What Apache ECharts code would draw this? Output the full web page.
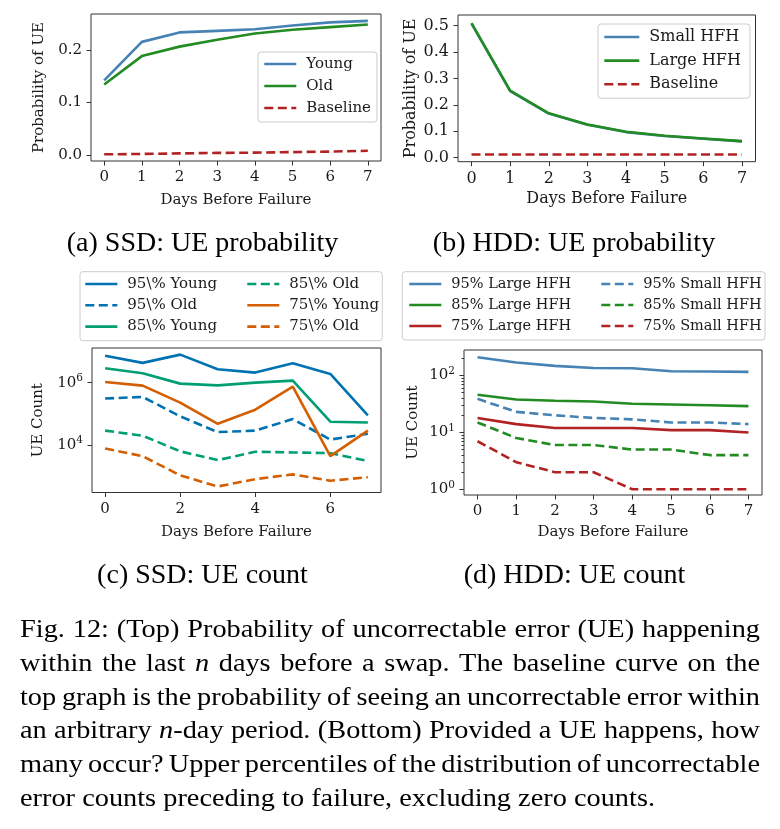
<!DOCTYPE html>
<html>
<head>
<meta charset="utf-8">
<script src="https://cdn.jsdelivr.net/npm/echarts@6/dist/echarts.min.js"></script>
<style>
html, body { margin: 0; padding: 0; background: #fff; }
#chart { width: 780px; height: 829px; }
</style>
</head>
<body>
<div id="chart"></div>
<script>
// days before failure, shared by all four panels
var days = [0, 1, 2, 3, 4, 5, 6, 7];

// (a) SSD: UE probability
var ssdYoung = [0.142, 0.215, 0.233, 0.236, 0.239, 0.246, 0.252, 0.255];
var ssdOld = [0.134, 0.188, 0.206, 0.219, 0.231, 0.238, 0.243, 0.248];
var ssdBaseline = [0.0013, 0.002, 0.003, 0.004, 0.0045, 0.0055, 0.0065, 0.008];

// (b) HDD: UE probability
var hddSmall = [0.507, 0.252, 0.167, 0.125, 0.097, 0.082, 0.072, 0.062];
var hddLarge = [0.509, 0.254, 0.168, 0.126, 0.098, 0.083, 0.073, 0.063];
var hddBaseline = [0.012, 0.012, 0.012, 0.012, 0.012, 0.012, 0.012, 0.012];

// (c) SSD: UE count percentiles
var ssd95Young = [7.3e6, 4.3e6, 7.9e6, 2.7e6, 2.1e6, 4.2e6, 1.9e6, 8.9e4];
var ssd95Old = [3.1e5, 3.5e5, 8.3e4, 2.6e4, 2.9e4, 6.8e4, 1.5e4, 2.3e4];
var ssd85Young = [2.9e6, 2.0e6, 9.3e5, 8.2e5, 1.0e6, 1.16e6, 5.6e4, 5.3e4];
var ssd85Old = [2.9e4, 2.0e4, 6.3e3, 3.3e3, 6.1e3, 5.8e3, 5.5e3, 3.1e3];
var ssd75Young = [1.05e6, 8.0e5, 2.3e5, 4.8e4, 1.36e5, 7.4e5, 4.4e3, 2.9e4];
var ssd75Old = [7.8e3, 4.4e3, 1.07e3, 470, 810, 1.15e3, 720, 930];

// (d) HDD: UE count percentiles
var hdd95Large = [210, 170, 148, 136, 135, 119, 118, 116];
var hdd85Large = [46, 38, 36, 35, 32, 31, 30, 29];
var hdd75Large = [18, 14, 12, 12, 12, 11, 11, 10];
var hdd95Small = [39, 23, 20, 18, 17, 15, 15, 14];
var hdd85Small = [15, 8, 6, 6, 5, 5, 4, 4];
var hdd75Small = [7, 3, 2, 2, 1, 1, 1, 1];

// tick labels
var dayTicks = [0, 1, 2, 3, 4, 5, 6, 7];
var dayTicksC = [0, 2, 4, 6];
var probTicksA = [0, 0.1, 0.2];
var probTicksB = [0, 0.1, 0.2, 0.3, 0.4, 0.5];
var countTicksC = [1e4, 1e6];
var countTicksD = [1, 10, 100];
var minorTicksD = [];
[1, 10, 100].forEach(function (p) {
    for (var m = 2; m <= 9; m++) {
        if (m * p < 282) minorTicksD.push(m * p);
    }
});

var captionLines = [
    'Fig. 12: (Top) Probability of uncorrectable error (UE) happening',
    'within the last _n_ days before a swap. The baseline curve on the',
    'top graph is the probability of seeing an uncorrectable error within',
    'an arbitrary _n_-day period. (Bottom) Provided a UE happens, how',
    'many occur? Upper percentiles of the distribution of uncorrectable',
    'error counts preceding to failure, excluding zero counts.'
];

var AX_FONT = 'DejaVu Serif';
var CAP_FONT = '"Liberation Serif", "Times New Roman", serif';
var FRAME = '#333';
var TXT = '#1a1a1a';
var LW = 2.6;

// matplotlib named colours
var BLUE = '#4682b4', GREEN = '#228b22', RED = '#b22222';
// seaborn colorblind
var CB_BLUE = '#0072b2', CB_GREEN = '#009e73', CB_ORANGE = '#d55e00';

function pts(vals) {
    return days.map(function (d, i) { return [d, vals[i]]; });
}

function xAxisCfg(gi, ticks, gap, fs) {
    return {
        type: 'value', gridIndex: gi, min: -0.35, max: 7.35,
        axisLine: { show: false, onZero: false },
        axisTick: { show: true, customValues: ticks, length: 4.5, lineStyle: { color: FRAME } },
        axisLabel: { customValues: ticks, margin: 9, fontFamily: AX_FONT, fontSize: fs, color: TXT },
        splitLine: { show: false },
        name: 'Days Before Failure', nameLocation: 'middle', nameGap: gap,
        nameTextStyle: { fontFamily: AX_FONT, fontSize: fs, color: TXT }
    };
}

function yValCfg(gi, min, max, ticks, gap, fs) {
    return {
        type: 'value', gridIndex: gi, min: min, max: max,
        axisLine: { show: false, onZero: false },
        axisTick: { show: true, customValues: ticks, length: 4.5, lineStyle: { color: FRAME } },
        axisLabel: {
            customValues: ticks, margin: 9, fontFamily: AX_FONT, fontSize: fs, color: TXT,
            formatter: function (v) { return v.toFixed(1); }
        },
        splitLine: { show: false },
        name: 'Probability of UE', nameLocation: 'middle', nameGap: gap,
        nameTextStyle: { fontFamily: AX_FONT, fontSize: fs, color: TXT }
    };
}

function yLogCfg(gi, min, max, ticks, gap) {
    return {
        type: 'log', logBase: 10, gridIndex: gi, min: min, max: max, position: 'left',
        axisLine: { show: false, onZero: false },
        axisTick: { show: true, customValues: ticks, length: 4.5, lineStyle: { color: FRAME } },
        axisLabel: {
            customValues: ticks, margin: 9, fontFamily: AX_FONT, fontSize: 15, color: TXT,
            formatter: function (v) { return '10{s|' + Math.round(Math.log10(v)) + '}'; },
            rich: {
                s: { fontFamily: AX_FONT, fontSize: 10.5, color: TXT, verticalAlign: 'top', lineHeight: 20 }
            }
        },
        splitLine: { show: false },
        name: 'UE Count', nameLocation: 'middle', nameGap: gap,
        nameTextStyle: { fontFamily: AX_FONT, fontSize: 15, color: TXT }
    };
}

function line(name, gi, yi, vals, color, dashed) {
    return {
        name: name, type: 'line', xAxisIndex: gi, yAxisIndex: yi,
        data: pts(vals), symbol: 'none', animation: false,
        lineStyle: { color: color, width: LW, type: dashed ? [9, 4.5] : 'solid', cap: 'butt' },
        itemStyle: { color: color }
    };
}

function legendCfg(names, left, top, gap, padding, framed, fs, handle) {
    var cfg = {
        orient: 'vertical', left: left, top: top, data: names,
        itemWidth: handle || 32, itemHeight: 16, itemGap: gap, padding: padding,
        selectedMode: false,
        itemStyle: { opacity: 0 },
        lineStyle: { width: LW },
        textStyle: { fontFamily: AX_FONT, fontSize: fs || 15, color: TXT, lineHeight: 16, padding: [0, 0, 0, 5] }
    };
    if (framed) {
        cfg.backgroundColor = 'rgba(255,255,255,0.8)';
        cfg.borderColor = '#cccccc';
        cfg.borderWidth = 1;
        cfg.borderRadius = 3;
    }
    return cfg;
}

// caption text, justified word by word
var measureCtx = document.createElement('canvas').getContext('2d');
function segWidth(seg, italic, size) {
    measureCtx.font = (italic ? 'italic ' : '') + size + 'px ' + CAP_FONT;
    return measureCtx.measureText(seg).width;
}
function splitToken(tok) {
    return tok.split(/(_[^_]+_)/).filter(function (s) { return s.length; }).map(function (s) {
        var it = s.charAt(0) === '_' && s.charAt(s.length - 1) === '_' && s.length > 2;
        return { text: it ? s.slice(1, -1) : s, italic: it };
    });
}

function captionGraphics() {
    var size = 25.5;
    var left = 20, right = 760, lastRight = 655;
    var base0 = 639, step = 33.8;
    var els = [];
    var lines = captionLines.map(function (ln) {
        return ln.split(' ').map(function (tok) {
            var segs = splitToken(tok);
            var w = 0;
            segs.forEach(function (s) { s.w = segWidth(s.text, s.italic, size); w += s.w; });
            return { segs: segs, w: w };
        });
    });
    var spaceW = segWidth(' ', false, size);
    var last = lines[lines.length - 1];
    var lastW = last.reduce(function (a, t) { return a + t.w; }, 0) + spaceW * (last.length - 1);
    var k = (lastRight - left) / lastW;
    lines.forEach(function (words, li) {
        var wordsW = words.reduce(function (a, t) { return a + t.w; }, 0) * k;
        var gap = li < lines.length - 1 ? (right - left - wordsW) / (words.length - 1) : spaceW * k;
        var x = left;
        var y = base0 + li * step - 0.3375 * size;
        words.forEach(function (t) {
            t.segs.forEach(function (s) {
                els.push({
                    type: 'text', x: x, y: y, scaleX: k, silent: true,
                    style: {
                        text: s.text, fontSize: size, fontFamily: CAP_FONT,
                        fontStyle: s.italic ? 'italic' : 'normal', fill: '#000',
                        align: 'left', verticalAlign: 'middle'
                    }
                });
                x += s.w * k;
            });
            x += gap;
        });
    });
    return els;
}

function subCaption(text, cx, baseline) {
    var size = 28;
    return {
        type: 'text', x: cx, y: baseline - 0.3375 * size, silent: true,
        style: {
            text: text, fontSize: size, fontFamily: CAP_FONT, fill: '#000',
            align: 'center', verticalAlign: 'middle'
        }
    };
}

function legendFrame(x, y, w, h) {
    return {
        type: 'rect', silent: true, z: -1,
        shape: { x: x, y: y, width: w, height: h, r: 3 },
        style: { fill: 'rgba(255,255,255,0.8)', stroke: '#cccccc', lineWidth: 1 }
    };
}

var chart = echarts.init(document.getElementById('chart'), null, { renderer: 'canvas' });

var gridStyle = { show: true, borderColor: FRAME, borderWidth: 1, backgroundColor: 'transparent' };
var option = {
    backgroundColor: '#ffffff',
    animation: false,
    grid: [
        Object.assign({ left: 91, top: 14, width: 290, height: 147 }, gridStyle),
        Object.assign({ left: 458, top: 15, width: 297.5, height: 146.7 }, gridStyle),
        Object.assign({ left: 92, top: 348, width: 289, height: 144.5 }, gridStyle),
        Object.assign({ left: 464, top: 350, width: 298, height: 145 }, gridStyle)
    ],
    xAxis: [
        xAxisCfg(0, dayTicks, 32, 15),
        xAxisCfg(1, dayTicks, 29, 16),
        xAxisCfg(2, dayTicksC, 32, 15),
        xAxisCfg(3, dayTicks, 30, 15)
    ],
    yAxis: [
        yValCfg(0, -0.0114, 0.268, probTicksA, 44, 15),
        yValCfg(1, -0.015, 0.54, probTicksB, 39, 16),
        yLogCfg(2, Math.pow(10, 2.48), Math.pow(10, 7.11), countTicksC, 46),
        yLogCfg(3, Math.pow(10, -0.1), Math.pow(10, 2.45), countTicksD, 43),
        {
            type: 'log', logBase: 10, gridIndex: 3, min: Math.pow(10, -0.1), max: Math.pow(10, 2.45),
            position: 'left',
            axisLine: { show: false, onZero: false },
            axisTick: { show: true, customValues: minorTicksD, length: 2.5, lineStyle: { color: FRAME } },
            axisLabel: { show: false },
            splitLine: { show: false }
        }
    ],
    legend: [
        legendCfg(['Young', 'Old', 'Baseline'], 258, 52, 6, [4, 6, 6, 5], true),
        legendCfg(['Small HFH', 'Large HFH', 'Baseline'], 598, 24, 7.6, [5, 9, 6, 5], true, 16, 35),
        legendCfg(['95\\% Young', '95\\% Old', '85\\% Young'], 84, 276, 5.3, 0, false),
        legendCfg(['85\\% Old', '75\\% Young', '75\\% Old'], 246, 276, 5.3, 0, false),
        legendCfg(['95% Large HFH', '85% Large HFH', '75% Large HFH'], 408, 276, 5, 0, false, 14.5),
        legendCfg(['95% Small HFH', '85% Small HFH', '75% Small HFH'], 600, 276, 5, 0, false, 14.5)
    ],
    series: [
        line('Young', 0, 0, ssdYoung, BLUE, false),
        line('Old', 0, 0, ssdOld, GREEN, false),
        line('Baseline', 0, 0, ssdBaseline, RED, true),

        line('Small HFH', 1, 1, hddSmall, BLUE, false),
        line('Large HFH', 1, 1, hddLarge, GREEN, false),
        line('Baseline', 1, 1, hddBaseline, RED, true),

        line('95\\% Young', 2, 2, ssd95Young, CB_BLUE, false),
        line('95\\% Old', 2, 2, ssd95Old, CB_BLUE, true),
        line('85\\% Young', 2, 2, ssd85Young, CB_GREEN, false),
        line('85\\% Old', 2, 2, ssd85Old, CB_GREEN, true),
        line('75\\% Young', 2, 2, ssd75Young, CB_ORANGE, false),
        line('75\\% Old', 2, 2, ssd75Old, CB_ORANGE, true),

        line('95% Large HFH', 3, 3, hdd95Large, BLUE, false),
        line('85% Large HFH', 3, 3, hdd85Large, GREEN, false),
        line('75% Large HFH', 3, 3, hdd75Large, RED, false),
        line('95% Small HFH', 3, 3, hdd95Small, BLUE, true),
        line('85% Small HFH', 3, 3, hdd85Small, GREEN, true),
        line('75% Small HFH', 3, 3, hdd75Small, RED, true)
    ],
    graphic: [
        legendFrame(80, 271.7, 302.3, 69),
        legendFrame(402.3, 271.7, 362.7, 68.3),
        subCaption('(a) SSD: UE probability', 202.5, 253),
        subCaption('(b) HDD: UE probability', 574, 253),
        subCaption('(c) SSD: UE count', 202.5, 585),
        subCaption('(d) HDD: UE count', 574.5, 585)
    ].concat(captionGraphics())
};

chart.setOption(option);
</script>
</body>
</html>
